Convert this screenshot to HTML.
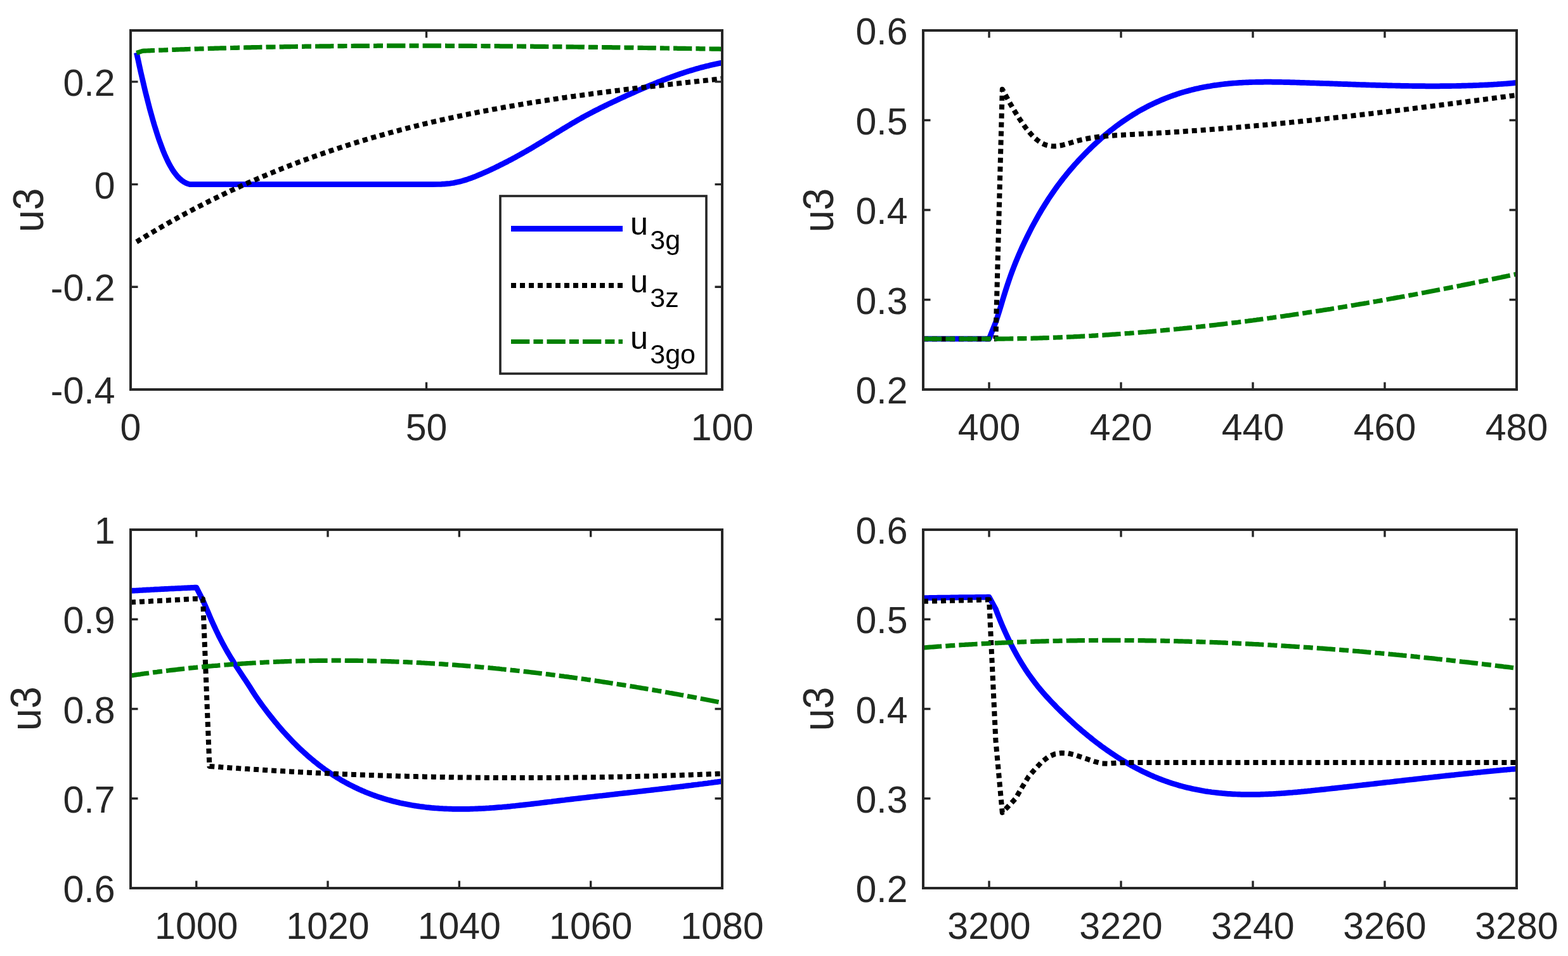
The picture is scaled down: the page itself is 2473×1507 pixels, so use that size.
<!DOCTYPE html>
<html><head><meta charset="utf-8"><title>u3 plots</title>
<style>html,body{margin:0;padding:0;background:#fff;overflow:hidden}svg{display:block}</style>
</head><body>
<svg width="2473" height="1507" viewBox="0 0 2473 1507" font-family="'Liberation Sans', Arial, Helvetica, sans-serif" font-size="59" fill="#262626">
<rect width="2473" height="1507" fill="#fff"/>
<clipPath id="c1"><rect x="206" y="48" width="933" height="566"/></clipPath>
<clipPath id="c2"><rect x="1456" y="48" width="936" height="566"/></clipPath>
<clipPath id="c3"><rect x="206" y="835" width="933" height="565"/></clipPath>
<clipPath id="c4"><rect x="1456" y="835" width="936" height="565"/></clipPath>
<g clip-path="url(#c1)">
<path d="M215.3 83.0L217.7 93.8L220.0 104.5L222.3 114.9L224.7 125.1L227.0 135.1L229.3 144.7L231.7 154.1L234.0 163.3L236.3 172.1L238.7 180.7L241.0 188.9L243.3 196.8L245.7 204.4L248.0 211.7L250.3 218.7L252.7 225.3L255.0 231.6L257.3 237.6L259.6 243.2L262.0 248.5L264.3 253.5L266.6 258.1L269.0 262.4L271.3 266.3L273.6 269.9L276.0 273.2L278.3 276.2L280.6 278.8L283.0 281.2L285.3 283.3L287.6 285.1L290.0 286.7L292.3 288.0L294.6 289.1L297.0 289.9L299.3 290.6L308.6 290.6L318.0 290.6L327.3 290.6L336.6 290.6L345.9 290.6L355.3 290.6L364.6 290.6L373.9 290.6L383.3 290.6L392.6 290.6L401.9 290.6L411.3 290.6L420.6 290.6L429.9 290.6L439.2 290.6L448.6 290.6L457.9 290.6L467.2 290.6L476.6 290.6L485.9 290.6L495.2 290.6L504.6 290.6L513.9 290.6L523.2 290.6L532.5 290.6L541.9 290.6L551.2 290.6L560.5 290.6L569.9 290.6L579.2 290.6L588.5 290.6L597.9 290.6L607.2 290.6L616.5 290.6L625.9 290.6L635.2 290.6L644.5 290.6L653.8 290.6L663.2 290.6L672.5 290.6L681.8 290.6L691.2 290.5L693.5 290.5L695.8 290.4L698.2 290.2L700.5 290.1L702.8 289.9L705.2 289.7L707.5 289.5L709.8 289.2L712.2 288.8L714.5 288.5L716.8 288.1L719.2 287.6L721.5 287.1L723.8 286.6L726.1 286.0L728.5 285.4L730.8 284.7L733.1 284.0L735.5 283.3L737.8 282.5L740.1 281.7L742.5 280.9L744.8 280.0L747.1 279.1L749.5 278.2L751.8 277.3L754.1 276.3L756.5 275.3L758.8 274.4L761.1 273.3L763.5 272.3L765.8 271.3L768.1 270.2L770.5 269.2L772.8 268.1L775.1 267.0L777.5 265.9L779.8 264.8L782.1 263.7L784.5 262.5L786.8 261.4L789.1 260.2L791.5 259.0L793.8 257.9L796.1 256.7L798.5 255.5L800.8 254.3L803.1 253.0L805.5 251.8L807.8 250.6L810.1 249.3L812.5 248.1L814.8 246.8L817.1 245.5L819.4 244.2L821.8 242.9L824.1 241.6L826.4 240.3L828.8 239.0L831.1 237.6L833.4 236.3L835.8 234.9L838.1 233.6L840.4 232.2L842.8 230.8L845.1 229.4L847.4 228.0L849.8 226.6L852.1 225.2L854.4 223.8L856.8 222.4L859.1 220.9L861.4 219.5L863.8 218.1L866.1 216.6L868.4 215.2L870.8 213.8L873.1 212.3L875.4 210.9L877.8 209.5L880.1 208.0L882.4 206.6L884.8 205.2L887.1 203.7L889.4 202.3L891.8 200.9L894.1 199.5L896.4 198.1L898.8 196.7L901.1 195.3L903.4 193.9L905.8 192.6L908.1 191.2L910.4 189.9L912.7 188.5L915.1 187.2L917.4 185.9L919.7 184.6L922.1 183.3L924.4 182.0L926.7 180.8L929.1 179.5L931.4 178.3L933.7 177.1L936.1 175.9L938.4 174.6L940.7 173.5L943.1 172.3L945.4 171.1L947.7 169.9L950.1 168.8L952.4 167.6L954.7 166.5L957.1 165.3L959.4 164.2L961.7 163.1L964.1 162.0L966.4 160.9L968.7 159.8L971.1 158.7L973.4 157.6L975.7 156.5L978.1 155.4L980.4 154.3L982.7 153.3L985.1 152.2L987.4 151.1L989.7 150.1L992.1 149.0L994.4 148.0L996.7 146.9L999.0 145.9L1001.4 144.9L1003.7 143.8L1006.0 142.8L1008.4 141.8L1010.7 140.8L1013.0 139.8L1015.4 138.8L1017.7 137.8L1020.0 136.8L1022.4 135.8L1024.7 134.8L1027.0 133.9L1029.4 132.9L1031.7 132.0L1034.0 131.0L1036.4 130.1L1038.7 129.1L1041.0 128.2L1043.4 127.3L1045.7 126.4L1048.0 125.5L1050.4 124.6L1052.7 123.7L1055.0 122.9L1057.4 122.0L1059.7 121.1L1062.0 120.3L1064.4 119.5L1066.7 118.6L1069.0 117.8L1071.4 117.0L1073.7 116.2L1076.0 115.5L1078.4 114.7L1080.7 113.9L1083.0 113.2L1085.4 112.4L1087.7 111.7L1090.0 111.0L1092.3 110.3L1094.7 109.6L1097.0 108.9L1099.3 108.2L1101.7 107.6L1104.0 106.9L1106.3 106.3L1108.7 105.7L1111.0 105.1L1113.3 104.5L1115.7 103.9L1118.0 103.4L1120.3 102.8L1122.7 102.3L1125.0 101.8L1127.3 101.3L1129.7 100.8L1132.0 100.3L1134.3 99.8L1136.7 99.4L1139.0 99.0" fill="none" stroke="#0000ff" stroke-width="8.7" stroke-linejoin="round"/>
<path d="M215.3 381.3L217.7 379.9L220.0 378.4L222.3 377.0L224.7 375.6L227.0 374.2L229.3 372.7L231.7 371.3L234.0 369.9L236.3 368.5L238.7 367.1L241.0 365.8L243.3 364.4L245.7 363.0L248.0 361.6L250.3 360.3L252.7 358.9L255.0 357.6L257.3 356.2L259.6 354.9L262.0 353.6L264.3 352.2L266.6 350.9L269.0 349.6L271.3 348.3L273.6 347.0L276.0 345.7L278.3 344.4L280.6 343.1L283.0 341.8L285.3 340.6L287.6 339.3L290.0 338.0L292.3 336.8L294.6 335.5L297.0 334.3L299.3 333.0L301.6 331.8L304.0 330.6L306.3 329.3L308.6 328.1L311.0 326.9L313.3 325.7L315.6 324.5L318.0 323.3L320.3 322.1L322.6 320.9L325.0 319.7L327.3 318.6L329.6 317.4L332.0 316.2L334.3 315.1L336.6 313.9L339.0 312.8L341.3 311.6L343.6 310.5L345.9 309.3L348.3 308.2L350.6 307.1L352.9 306.0L355.3 304.9L357.6 303.7L359.9 302.6L362.3 301.5L364.6 300.4L366.9 299.4L369.3 298.3L371.6 297.2L373.9 296.1L376.3 295.1L378.6 294.0L380.9 292.9L383.3 291.9L385.6 290.8L387.9 289.8L390.3 288.7L392.6 287.7L394.9 286.7L397.3 285.7L399.6 284.6L401.9 283.6L404.3 282.6L406.6 281.6L408.9 280.6L411.3 279.6L413.6 278.6L415.9 277.6L418.3 276.7L420.6 275.7L422.9 274.7L425.3 273.7L427.6 272.8L429.9 271.8L432.3 270.9L434.6 269.9L436.9 269.0L439.2 268.0L441.6 267.1L443.9 266.2L446.2 265.2L448.6 264.3L450.9 263.4L453.2 262.5L455.6 261.6L457.9 260.7L460.2 259.8L462.6 258.9L464.9 258.0L467.2 257.1L469.6 256.2L471.9 255.3L474.2 254.5L476.6 253.6L478.9 252.7L481.2 251.9L483.6 251.0L485.9 250.2L488.2 249.3L490.6 248.5L492.9 247.7L495.2 246.8L497.6 246.0L499.9 245.2L502.2 244.3L504.6 243.5L506.9 242.7L509.2 241.9L511.6 241.1L513.9 240.3L516.2 239.5L518.6 238.7L520.9 237.9L523.2 237.1L525.6 236.4L527.9 235.6L530.2 234.8L532.5 234.0L534.9 233.3L537.2 232.5L539.5 231.8L541.9 231.0L544.2 230.3L546.5 229.5L548.9 228.8L551.2 228.0L553.5 227.3L555.9 226.6L558.2 225.8L560.5 225.1L562.9 224.4L565.2 223.7L567.5 223.0L569.9 222.3L572.2 221.6L574.5 220.9L576.9 220.2L579.2 219.5L581.5 218.8L583.9 218.1L586.2 217.4L588.5 216.7L590.9 216.1L593.2 215.4L595.5 214.7L597.9 214.1L600.2 213.4L602.5 212.8L604.9 212.1L607.2 211.4L609.5 210.8L611.9 210.2L614.2 209.5L616.5 208.9L618.9 208.3L621.2 207.6L623.5 207.0L625.9 206.4L628.2 205.8L630.5 205.1L632.8 204.5L635.2 203.9L637.5 203.3L639.8 202.7L642.2 202.1L644.5 201.5L646.8 200.9L649.2 200.3L651.5 199.8L653.8 199.2L656.2 198.6L658.5 198.0L660.8 197.4L663.2 196.9L665.5 196.3L667.8 195.7L670.2 195.2L672.5 194.6L674.8 194.1L677.2 193.5L679.5 193.0L681.8 192.4L684.2 191.9L686.5 191.3L688.8 190.8L691.2 190.3L693.5 189.7L695.8 189.2L698.2 188.7L700.5 188.2L702.8 187.6L705.2 187.1L707.5 186.6L709.8 186.1L712.2 185.6L714.5 185.1L716.8 184.6L719.2 184.1L721.5 183.6L723.8 183.1L726.1 182.6L728.5 182.1L730.8 181.6L733.1 181.1L735.5 180.7L737.8 180.2L740.1 179.7L742.5 179.2L744.8 178.8L747.1 178.3L749.5 177.8L751.8 177.4L754.1 176.9L756.5 176.4L758.8 176.0L761.1 175.5L763.5 175.1L765.8 174.6L768.1 174.2L770.5 173.8L772.8 173.3L775.1 172.9L777.5 172.4L779.8 172.0L782.1 171.6L784.5 171.1L786.8 170.7L789.1 170.3L791.5 169.9L793.8 169.4L796.1 169.0L798.5 168.6L800.8 168.2L803.1 167.8L805.5 167.4L807.8 167.0L810.1 166.6L812.5 166.2L814.8 165.8L817.1 165.4L819.4 165.0L821.8 164.6L824.1 164.2L826.4 163.8L828.8 163.4L831.1 163.0L833.4 162.6L835.8 162.3L838.1 161.9L840.4 161.5L842.8 161.1L845.1 160.8L847.4 160.4L849.8 160.0L852.1 159.7L854.4 159.3L856.8 158.9L859.1 158.6L861.4 158.2L863.8 157.8L866.1 157.5L868.4 157.1L870.8 156.8L873.1 156.4L875.4 156.1L877.8 155.7L880.1 155.4L882.4 155.0L884.8 154.7L887.1 154.3L889.4 154.0L891.8 153.7L894.1 153.3L896.4 153.0L898.8 152.7L901.1 152.3L903.4 152.0L905.8 151.7L908.1 151.3L910.4 151.0L912.7 150.7L915.1 150.4L917.4 150.1L919.7 149.7L922.1 149.4L924.4 149.1L926.7 148.8L929.1 148.5L931.4 148.2L933.7 147.8L936.1 147.5L938.4 147.2L940.7 146.9L943.1 146.6L945.4 146.3L947.7 146.0L950.1 145.7L952.4 145.4L954.7 145.1L957.1 144.8L959.4 144.5L961.7 144.2L964.1 143.9L966.4 143.6L968.7 143.3L971.1 143.0L973.4 142.7L975.7 142.5L978.1 142.2L980.4 141.9L982.7 141.6L985.1 141.3L987.4 141.0L989.7 140.7L992.1 140.5L994.4 140.2L996.7 139.9L999.0 139.6L1001.4 139.3L1003.7 139.1L1006.0 138.8L1008.4 138.5L1010.7 138.2L1013.0 138.0L1015.4 137.7L1017.7 137.4L1020.0 137.1L1022.4 136.9L1024.7 136.6L1027.0 136.3L1029.4 136.1L1031.7 135.8L1034.0 135.5L1036.4 135.3L1038.7 135.0L1041.0 134.7L1043.4 134.5L1045.7 134.2L1048.0 133.9L1050.4 133.7L1052.7 133.4L1055.0 133.1L1057.4 132.9L1059.7 132.6L1062.0 132.4L1064.4 132.1L1066.7 131.8L1069.0 131.6L1071.4 131.3L1073.7 131.1L1076.0 130.8L1078.4 130.6L1080.7 130.3L1083.0 130.0L1085.4 129.8L1087.7 129.5L1090.0 129.3L1092.3 129.0L1094.7 128.8L1097.0 128.5L1099.3 128.3L1101.7 128.0L1104.0 127.7L1106.3 127.5L1108.7 127.2L1111.0 127.0L1113.3 126.7L1115.7 126.5L1118.0 126.2L1120.3 126.0L1122.7 125.7L1125.0 125.5L1127.3 125.2L1129.7 125.0L1132.0 124.7L1134.3 124.5L1136.7 124.2L1139.0 124.0" fill="none" stroke="#000" stroke-width="8" stroke-dasharray="8 6" stroke-linejoin="round"/>
<path d="M215.3 83.5L224.7 80.3L227.0 80.2L229.3 80.1L231.7 80.0L234.0 79.9L236.3 79.8L238.7 79.7L241.0 79.6L243.3 79.5L245.7 79.4L248.0 79.3L250.3 79.2L252.7 79.2L255.0 79.1L257.3 79.0L259.6 78.9L262.0 78.8L264.3 78.7L266.6 78.6L269.0 78.5L271.3 78.4L273.6 78.4L276.0 78.3L278.3 78.2L280.6 78.1L283.0 78.0L285.3 77.9L287.6 77.8L290.0 77.8L292.3 77.7L294.6 77.6L297.0 77.5L299.3 77.4L301.6 77.4L304.0 77.3L306.3 77.2L308.6 77.1L311.0 77.1L313.3 77.0L315.6 76.9L318.0 76.8L320.3 76.8L322.6 76.7L325.0 76.6L327.3 76.6L329.6 76.5L332.0 76.4L334.3 76.3L336.6 76.3L339.0 76.2L341.3 76.1L343.6 76.1L345.9 76.0L348.3 75.9L350.6 75.9L352.9 75.8L355.3 75.8L357.6 75.7L359.9 75.6L362.3 75.6L364.6 75.5L366.9 75.5L369.3 75.4L371.6 75.3L373.9 75.3L376.3 75.2L378.6 75.2L380.9 75.1L383.3 75.0L385.6 75.0L387.9 74.9L390.3 74.9L392.6 74.8L394.9 74.8L397.3 74.7L399.6 74.7L401.9 74.6L404.3 74.6L406.6 74.5L408.9 74.5L411.3 74.4L413.6 74.4L415.9 74.3L418.3 74.3L420.6 74.2L422.9 74.2L425.3 74.1L427.6 74.1L429.9 74.1L432.3 74.0L434.6 74.0L436.9 73.9L439.2 73.9L441.6 73.8L443.9 73.8L446.2 73.8L448.6 73.7L450.9 73.7L453.2 73.6L455.6 73.6L457.9 73.6L460.2 73.5L462.6 73.5L464.9 73.5L467.2 73.4L469.6 73.4L471.9 73.4L474.2 73.3L476.6 73.3L478.9 73.3L481.2 73.2L483.6 73.2L485.9 73.2L488.2 73.1L490.6 73.1L492.9 73.1L495.2 73.0L497.6 73.0L499.9 73.0L502.2 73.0L504.6 72.9L506.9 72.9L509.2 72.9L511.6 72.9L513.9 72.8L516.2 72.8L518.6 72.8L520.9 72.8L523.2 72.7L525.6 72.7L527.9 72.7L530.2 72.7L532.5 72.6L534.9 72.6L537.2 72.6L539.5 72.6L541.9 72.6L544.2 72.5L546.5 72.5L548.9 72.5L551.2 72.5L553.5 72.5L555.9 72.5L558.2 72.4L560.5 72.4L562.9 72.4L565.2 72.4L567.5 72.4L569.9 72.4L572.2 72.4L574.5 72.3L576.9 72.3L579.2 72.3L581.5 72.3L583.9 72.3L586.2 72.3L588.5 72.3L590.9 72.3L593.2 72.3L595.5 72.2L597.9 72.2L600.2 72.2L602.5 72.2L604.9 72.2L607.2 72.2L609.5 72.2L611.9 72.2L614.2 72.2L616.5 72.2L618.9 72.2L621.2 72.2L623.5 72.2L625.9 72.2L628.2 72.2L630.5 72.2L632.8 72.2L635.2 72.2L637.5 72.1L639.8 72.1L642.2 72.1L644.5 72.1L646.8 72.1L649.2 72.1L651.5 72.1L653.8 72.1L656.2 72.1L658.5 72.1L660.8 72.1L663.2 72.2L665.5 72.2L667.8 72.2L670.2 72.2L672.5 72.2L674.8 72.2L677.2 72.2L679.5 72.2L681.8 72.2L684.2 72.2L686.5 72.2L688.8 72.2L691.2 72.2L693.5 72.2L695.8 72.2L698.2 72.2L700.5 72.2L702.8 72.2L705.2 72.3L707.5 72.3L709.8 72.3L712.2 72.3L714.5 72.3L716.8 72.3L719.2 72.3L721.5 72.3L723.8 72.3L726.1 72.3L728.5 72.4L730.8 72.4L733.1 72.4L735.5 72.4L737.8 72.4L740.1 72.4L742.5 72.4L744.8 72.4L747.1 72.5L749.5 72.5L751.8 72.5L754.1 72.5L756.5 72.5L758.8 72.5L761.1 72.5L763.5 72.6L765.8 72.6L768.1 72.6L770.5 72.6L772.8 72.6L775.1 72.6L777.5 72.7L779.8 72.7L782.1 72.7L784.5 72.7L786.8 72.7L789.1 72.8L791.5 72.8L793.8 72.8L796.1 72.8L798.5 72.8L800.8 72.9L803.1 72.9L805.5 72.9L807.8 72.9L810.1 72.9L812.5 73.0L814.8 73.0L817.1 73.0L819.4 73.0L821.8 73.0L824.1 73.1L826.4 73.1L828.8 73.1L831.1 73.1L833.4 73.2L835.8 73.2L838.1 73.2L840.4 73.2L842.8 73.3L845.1 73.3L847.4 73.3L849.8 73.3L852.1 73.3L854.4 73.4L856.8 73.4L859.1 73.4L861.4 73.5L863.8 73.5L866.1 73.5L868.4 73.5L870.8 73.6L873.1 73.6L875.4 73.6L877.8 73.6L880.1 73.7L882.4 73.7L884.8 73.7L887.1 73.7L889.4 73.8L891.8 73.8L894.1 73.8L896.4 73.9L898.8 73.9L901.1 73.9L903.4 73.9L905.8 74.0L908.1 74.0L910.4 74.0L912.7 74.1L915.1 74.1L917.4 74.1L919.7 74.1L922.1 74.2L924.4 74.2L926.7 74.2L929.1 74.3L931.4 74.3L933.7 74.3L936.1 74.4L938.4 74.4L940.7 74.4L943.1 74.5L945.4 74.5L947.7 74.5L950.1 74.5L952.4 74.6L954.7 74.6L957.1 74.6L959.4 74.7L961.7 74.7L964.1 74.7L966.4 74.8L968.7 74.8L971.1 74.8L973.4 74.9L975.7 74.9L978.1 74.9L980.4 75.0L982.7 75.0L985.1 75.0L987.4 75.1L989.7 75.1L992.1 75.1L994.4 75.2L996.7 75.2L999.0 75.2L1001.4 75.3L1003.7 75.3L1006.0 75.3L1008.4 75.4L1010.7 75.4L1013.0 75.4L1015.4 75.5L1017.7 75.5L1020.0 75.5L1022.4 75.6L1024.7 75.6L1027.0 75.6L1029.4 75.7L1031.7 75.7L1034.0 75.7L1036.4 75.8L1038.7 75.8L1041.0 75.8L1043.4 75.9L1045.7 75.9L1048.0 76.0L1050.4 76.0L1052.7 76.0L1055.0 76.1L1057.4 76.1L1059.7 76.1L1062.0 76.2L1064.4 76.2L1066.7 76.2L1069.0 76.3L1071.4 76.3L1073.7 76.3L1076.0 76.4L1078.4 76.4L1080.7 76.4L1083.0 76.5L1085.4 76.5L1087.7 76.5L1090.0 76.6L1092.3 76.6L1094.7 76.6L1097.0 76.7L1099.3 76.7L1101.7 76.7L1104.0 76.8L1106.3 76.8L1108.7 76.9L1111.0 76.9L1113.3 76.9L1115.7 77.0L1118.0 77.0L1120.3 77.0L1122.7 77.1L1125.0 77.1L1127.3 77.1L1129.7 77.2L1132.0 77.2L1134.3 77.2L1136.7 77.3L1139.0 77.3" fill="none" stroke="#008000" stroke-width="7.2" stroke-dasharray="29.3 6.1 15 6.1" stroke-linejoin="round"/>
</g>
<g clip-path="url(#c2)">
<path d="M1456.0 534.2L1466.4 534.2L1476.8 534.2L1487.2 534.2L1497.6 534.2L1508.0 534.2L1518.4 534.2L1528.8 534.2L1539.2 534.2L1549.6 534.2L1560.0 534.2L1570.4 508.0L1573.0 500.2L1575.6 491.9L1578.2 483.4L1580.8 474.8L1583.4 466.3L1586.0 457.9L1588.6 449.9L1591.2 442.2L1593.8 434.7L1596.4 427.6L1599.0 420.8L1601.6 414.2L1604.2 407.8L1606.8 401.6L1609.4 395.7L1612.0 389.9L1614.6 384.3L1617.2 378.8L1619.8 373.5L1622.4 368.3L1625.0 363.1L1627.6 358.1L1630.2 353.3L1632.8 348.5L1635.4 343.8L1638.0 339.2L1640.6 334.7L1643.2 330.3L1645.8 326.1L1648.4 321.9L1651.0 317.8L1653.6 313.7L1656.2 309.8L1658.8 306.0L1661.4 302.2L1664.0 298.5L1666.6 294.9L1669.2 291.3L1671.8 287.9L1674.4 284.5L1677.0 281.1L1679.6 277.9L1682.2 274.6L1684.8 271.5L1687.4 268.4L1690.0 265.4L1692.6 262.4L1695.2 259.4L1697.8 256.6L1700.4 253.7L1703.0 250.9L1705.6 248.1L1708.2 245.4L1710.8 242.7L1713.4 240.1L1716.0 237.5L1718.6 235.0L1721.2 232.4L1723.8 229.9L1726.4 227.5L1729.0 225.1L1731.6 222.7L1734.2 220.4L1736.8 218.1L1739.4 215.9L1742.0 213.6L1744.6 211.5L1747.2 209.3L1749.8 207.2L1752.4 205.1L1755.0 203.1L1757.6 201.1L1760.2 199.1L1762.8 197.2L1765.4 195.3L1768.0 193.4L1770.6 191.6L1773.2 189.8L1775.8 188.1L1778.4 186.3L1781.0 184.6L1783.6 183.0L1786.2 181.3L1788.8 179.7L1791.4 178.2L1794.0 176.6L1796.6 175.1L1799.2 173.6L1801.8 172.2L1804.4 170.8L1807.0 169.4L1809.6 168.0L1812.2 166.7L1814.8 165.4L1817.4 164.2L1820.0 162.9L1822.6 161.7L1825.2 160.5L1827.8 159.4L1830.4 158.2L1833.0 157.1L1835.6 156.1L1838.2 155.0L1840.8 154.0L1843.4 153.0L1846.0 152.0L1848.6 151.1L1851.2 150.2L1853.8 149.3L1856.4 148.4L1859.0 147.5L1861.6 146.7L1864.2 145.9L1866.8 145.1L1869.4 144.4L1872.0 143.7L1874.6 143.0L1877.2 142.3L1879.8 141.6L1882.4 141.0L1885.0 140.3L1887.6 139.7L1890.2 139.2L1892.8 138.6L1895.4 138.1L1898.0 137.5L1900.6 137.0L1903.2 136.6L1905.8 136.1L1908.4 135.7L1911.0 135.2L1913.6 134.8L1916.2 134.4L1918.8 134.1L1921.4 133.7L1924.0 133.4L1926.6 133.0L1929.2 132.7L1931.8 132.4L1934.4 132.2L1937.0 131.9L1939.6 131.6L1942.2 131.4L1944.8 131.2L1947.4 131.0L1950.0 130.8L1952.6 130.6L1955.2 130.4L1957.8 130.3L1960.4 130.1L1963.0 130.0L1965.6 129.9L1968.2 129.8L1970.8 129.7L1973.4 129.6L1976.0 129.5L1978.6 129.5L1981.2 129.4L1983.8 129.3L1986.4 129.3L1989.0 129.3L1991.6 129.3L1994.2 129.2L1996.8 129.2L1999.4 129.2L2002.0 129.2L2004.6 129.2L2007.2 129.3L2009.8 129.3L2012.4 129.3L2015.0 129.4L2017.6 129.4L2020.2 129.4L2022.8 129.5L2025.4 129.6L2028.0 129.6L2030.6 129.7L2033.2 129.7L2035.8 129.8L2038.4 129.9L2041.0 129.9L2043.6 130.0L2046.2 130.1L2048.8 130.2L2051.4 130.3L2054.0 130.3L2056.6 130.4L2059.2 130.5L2061.8 130.6L2064.4 130.7L2067.0 130.8L2069.6 130.8L2072.2 130.9L2074.8 131.0L2077.4 131.1L2080.0 131.2L2082.6 131.3L2085.2 131.4L2087.8 131.5L2090.4 131.5L2093.0 131.6L2095.6 131.7L2098.2 131.8L2100.8 131.9L2103.4 132.0L2106.0 132.1L2108.6 132.2L2111.2 132.3L2113.8 132.4L2116.4 132.5L2119.0 132.6L2121.6 132.7L2124.2 132.7L2126.8 132.8L2129.4 132.9L2132.0 133.0L2134.6 133.1L2137.2 133.2L2139.8 133.3L2142.4 133.4L2145.0 133.5L2147.6 133.6L2150.2 133.6L2152.8 133.7L2155.4 133.8L2158.0 133.9L2160.6 134.0L2163.2 134.1L2165.8 134.1L2168.4 134.2L2171.0 134.3L2173.6 134.4L2176.2 134.4L2178.8 134.5L2181.4 134.6L2184.0 134.7L2186.6 134.7L2189.2 134.8L2191.8 134.9L2194.4 134.9L2197.0 135.0L2199.6 135.0L2202.2 135.1L2204.8 135.2L2207.4 135.2L2210.0 135.3L2212.6 135.3L2215.2 135.4L2217.8 135.4L2220.4 135.4L2223.0 135.5L2225.6 135.5L2228.2 135.6L2230.8 135.6L2233.4 135.6L2236.0 135.7L2238.6 135.7L2241.2 135.7L2243.8 135.7L2246.4 135.7L2249.0 135.8L2251.6 135.8L2254.2 135.8L2256.8 135.8L2259.4 135.8L2262.0 135.8L2264.6 135.8L2267.2 135.8L2269.8 135.8L2272.4 135.7L2275.0 135.7L2277.6 135.7L2280.2 135.7L2282.8 135.7L2285.4 135.6L2288.0 135.6L2290.6 135.5L2293.2 135.5L2295.8 135.5L2298.4 135.4L2301.0 135.4L2303.6 135.3L2306.2 135.2L2308.8 135.2L2311.4 135.1L2314.0 135.0L2316.6 134.9L2319.2 134.8L2321.8 134.8L2324.4 134.7L2327.0 134.6L2329.6 134.5L2332.2 134.4L2334.8 134.2L2337.4 134.1L2340.0 134.0L2342.6 133.9L2345.2 133.8L2347.8 133.6L2350.4 133.5L2353.0 133.3L2355.6 133.2L2358.2 133.0L2360.8 132.9L2363.4 132.7L2366.0 132.5L2368.6 132.3L2371.2 132.2L2373.8 132.0L2376.4 131.8L2379.0 131.6L2381.6 131.4L2384.2 131.2L2386.8 130.9L2389.4 130.7L2392.0 130.5" fill="none" stroke="#0000ff" stroke-width="8.7" stroke-linejoin="round"/>
<path d="M1456.0 534.2L1466.4 534.2L1476.8 534.2L1487.2 534.2L1497.6 534.2L1508.0 534.2L1518.4 534.2L1528.8 534.2L1539.2 534.2L1549.6 534.2L1560.0 534.2L1570.4 534.2L1580.8 140.7L1591.2 159.6L1593.8 164.2L1596.4 168.7L1599.0 173.1L1601.6 177.4L1604.2 181.6L1606.8 185.6L1609.4 189.6L1612.0 193.4L1614.6 197.1L1617.2 200.7L1619.8 204.0L1622.4 207.2L1625.0 210.3L1627.6 213.1L1630.2 215.8L1632.8 218.2L1635.4 220.4L1638.0 222.4L1640.6 224.2L1643.2 225.7L1645.8 227.0L1648.4 228.1L1651.0 228.9L1653.6 229.6L1656.2 230.0L1658.8 230.3L1661.4 230.4L1664.0 230.4L1666.6 230.2L1669.2 229.9L1671.8 229.5L1674.4 229.0L1677.0 228.4L1679.6 227.7L1682.2 227.0L1684.8 226.3L1687.4 225.5L1690.0 224.7L1692.6 223.9L1695.2 223.1L1697.8 222.4L1700.4 221.7L1703.0 221.0L1705.6 220.4L1708.2 219.8L1710.8 219.2L1713.4 218.7L1716.0 218.2L1718.6 217.7L1721.2 217.3L1723.8 216.9L1726.4 216.5L1729.0 216.1L1731.6 215.8L1734.2 215.5L1736.8 215.2L1739.4 215.0L1742.0 214.7L1744.6 214.5L1747.2 214.3L1749.8 214.1L1752.4 213.9L1755.0 213.7L1757.6 213.5L1760.2 213.3L1762.8 213.2L1765.4 213.0L1768.0 212.9L1770.6 212.7L1773.2 212.6L1775.8 212.4L1778.4 212.3L1781.0 212.2L1783.6 212.0L1786.2 211.9L1788.8 211.7L1791.4 211.6L1794.0 211.5L1796.6 211.3L1799.2 211.2L1801.8 211.1L1804.4 210.9L1807.0 210.8L1809.6 210.6L1812.2 210.5L1814.8 210.4L1817.4 210.2L1820.0 210.1L1822.6 209.9L1825.2 209.8L1827.8 209.6L1830.4 209.5L1833.0 209.3L1835.6 209.2L1838.2 209.0L1840.8 208.9L1843.4 208.7L1846.0 208.5L1848.6 208.4L1851.2 208.2L1853.8 208.0L1856.4 207.9L1859.0 207.7L1861.6 207.5L1864.2 207.4L1866.8 207.2L1869.4 207.0L1872.0 206.8L1874.6 206.7L1877.2 206.5L1879.8 206.3L1882.4 206.1L1885.0 205.9L1887.6 205.8L1890.2 205.6L1892.8 205.4L1895.4 205.2L1898.0 205.0L1900.6 204.8L1903.2 204.6L1905.8 204.4L1908.4 204.2L1911.0 204.0L1913.6 203.8L1916.2 203.6L1918.8 203.4L1921.4 203.2L1924.0 203.0L1926.6 202.8L1929.2 202.6L1931.8 202.4L1934.4 202.2L1937.0 202.0L1939.6 201.7L1942.2 201.5L1944.8 201.3L1947.4 201.1L1950.0 200.9L1952.6 200.6L1955.2 200.4L1957.8 200.2L1960.4 200.0L1963.0 199.8L1965.6 199.5L1968.2 199.3L1970.8 199.1L1973.4 198.8L1976.0 198.6L1978.6 198.4L1981.2 198.1L1983.8 197.9L1986.4 197.7L1989.0 197.4L1991.6 197.2L1994.2 196.9L1996.8 196.7L1999.4 196.4L2002.0 196.2L2004.6 196.0L2007.2 195.7L2009.8 195.5L2012.4 195.2L2015.0 195.0L2017.6 194.7L2020.2 194.5L2022.8 194.2L2025.4 193.9L2028.0 193.7L2030.6 193.4L2033.2 193.2L2035.8 192.9L2038.4 192.6L2041.0 192.4L2043.6 192.1L2046.2 191.9L2048.8 191.6L2051.4 191.3L2054.0 191.1L2056.6 190.8L2059.2 190.5L2061.8 190.2L2064.4 190.0L2067.0 189.7L2069.6 189.4L2072.2 189.2L2074.8 188.9L2077.4 188.6L2080.0 188.3L2082.6 188.0L2085.2 187.8L2087.8 187.5L2090.4 187.2L2093.0 186.9L2095.6 186.6L2098.2 186.4L2100.8 186.1L2103.4 185.8L2106.0 185.5L2108.6 185.2L2111.2 184.9L2113.8 184.6L2116.4 184.3L2119.0 184.0L2121.6 183.7L2124.2 183.5L2126.8 183.2L2129.4 182.9L2132.0 182.6L2134.6 182.3L2137.2 182.0L2139.8 181.7L2142.4 181.4L2145.0 181.1L2147.6 180.8L2150.2 180.5L2152.8 180.2L2155.4 179.9L2158.0 179.6L2160.6 179.3L2163.2 179.0L2165.8 178.6L2168.4 178.3L2171.0 178.0L2173.6 177.7L2176.2 177.4L2178.8 177.1L2181.4 176.8L2184.0 176.5L2186.6 176.2L2189.2 175.9L2191.8 175.5L2194.4 175.2L2197.0 174.9L2199.6 174.6L2202.2 174.3L2204.8 174.0L2207.4 173.6L2210.0 173.3L2212.6 173.0L2215.2 172.7L2217.8 172.4L2220.4 172.1L2223.0 171.7L2225.6 171.4L2228.2 171.1L2230.8 170.8L2233.4 170.4L2236.0 170.1L2238.6 169.8L2241.2 169.5L2243.8 169.1L2246.4 168.8L2249.0 168.5L2251.6 168.2L2254.2 167.8L2256.8 167.5L2259.4 167.2L2262.0 166.8L2264.6 166.5L2267.2 166.2L2269.8 165.9L2272.4 165.5L2275.0 165.2L2277.6 164.9L2280.2 164.5L2282.8 164.2L2285.4 163.9L2288.0 163.5L2290.6 163.2L2293.2 162.9L2295.8 162.5L2298.4 162.2L2301.0 161.9L2303.6 161.5L2306.2 161.2L2308.8 160.9L2311.4 160.5L2314.0 160.2L2316.6 159.8L2319.2 159.5L2321.8 159.2L2324.4 158.8L2327.0 158.5L2329.6 158.2L2332.2 157.8L2334.8 157.5L2337.4 157.1L2340.0 156.8L2342.6 156.5L2345.2 156.1L2347.8 155.8L2350.4 155.4L2353.0 155.1L2355.6 154.7L2358.2 154.4L2360.8 154.1L2363.4 153.7L2366.0 153.4L2368.6 153.0L2371.2 152.7L2373.8 152.4L2376.4 152.0L2379.0 151.7L2381.6 151.3L2384.2 151.0L2386.8 150.6L2389.4 150.3L2392.0 150.0" fill="none" stroke="#000" stroke-width="8" stroke-dasharray="8 6" stroke-linejoin="round"/>
<path d="M1456.0 534.2L1466.4 534.2L1476.8 534.2L1487.2 534.2L1497.6 534.2L1508.0 534.2L1518.4 534.2L1528.8 534.2L1539.2 534.2L1549.6 534.2L1560.0 534.2L1562.6 534.2L1565.2 534.2L1567.8 534.2L1570.4 534.2L1573.0 534.1L1575.6 534.1L1578.2 534.1L1580.8 534.1L1583.4 534.1L1586.0 534.0L1588.6 534.0L1591.2 534.0L1593.8 533.9L1596.4 533.9L1599.0 533.9L1601.6 533.8L1604.2 533.8L1606.8 533.7L1609.4 533.7L1612.0 533.6L1614.6 533.6L1617.2 533.5L1619.8 533.5L1622.4 533.4L1625.0 533.3L1627.6 533.3L1630.2 533.2L1632.8 533.1L1635.4 533.1L1638.0 533.0L1640.6 532.9L1643.2 532.8L1645.8 532.7L1648.4 532.7L1651.0 532.6L1653.6 532.5L1656.2 532.4L1658.8 532.3L1661.4 532.2L1664.0 532.1L1666.6 532.0L1669.2 531.9L1671.8 531.8L1674.4 531.7L1677.0 531.6L1679.6 531.5L1682.2 531.3L1684.8 531.2L1687.4 531.1L1690.0 531.0L1692.6 530.9L1695.2 530.7L1697.8 530.6L1700.4 530.5L1703.0 530.3L1705.6 530.2L1708.2 530.1L1710.8 529.9L1713.4 529.8L1716.0 529.7L1718.6 529.5L1721.2 529.4L1723.8 529.2L1726.4 529.1L1729.0 528.9L1731.6 528.7L1734.2 528.6L1736.8 528.4L1739.4 528.3L1742.0 528.1L1744.6 527.9L1747.2 527.8L1749.8 527.6L1752.4 527.4L1755.0 527.2L1757.6 527.1L1760.2 526.9L1762.8 526.7L1765.4 526.5L1768.0 526.3L1770.6 526.1L1773.2 525.9L1775.8 525.7L1778.4 525.5L1781.0 525.4L1783.6 525.2L1786.2 525.0L1788.8 524.7L1791.4 524.5L1794.0 524.3L1796.6 524.1L1799.2 523.9L1801.8 523.7L1804.4 523.5L1807.0 523.3L1809.6 523.0L1812.2 522.8L1814.8 522.6L1817.4 522.4L1820.0 522.1L1822.6 521.9L1825.2 521.7L1827.8 521.4L1830.4 521.2L1833.0 521.0L1835.6 520.7L1838.2 520.5L1840.8 520.2L1843.4 520.0L1846.0 519.8L1848.6 519.5L1851.2 519.2L1853.8 519.0L1856.4 518.7L1859.0 518.5L1861.6 518.2L1864.2 518.0L1866.8 517.7L1869.4 517.4L1872.0 517.2L1874.6 516.9L1877.2 516.6L1879.8 516.4L1882.4 516.1L1885.0 515.8L1887.6 515.5L1890.2 515.2L1892.8 515.0L1895.4 514.7L1898.0 514.4L1900.6 514.1L1903.2 513.8L1905.8 513.5L1908.4 513.2L1911.0 512.9L1913.6 512.6L1916.2 512.3L1918.8 512.0L1921.4 511.7L1924.0 511.4L1926.6 511.1L1929.2 510.8L1931.8 510.5L1934.4 510.2L1937.0 509.9L1939.6 509.6L1942.2 509.2L1944.8 508.9L1947.4 508.6L1950.0 508.3L1952.6 508.0L1955.2 507.6L1957.8 507.3L1960.4 507.0L1963.0 506.6L1965.6 506.3L1968.2 506.0L1970.8 505.6L1973.4 505.3L1976.0 505.0L1978.6 504.6L1981.2 504.3L1983.8 503.9L1986.4 503.6L1989.0 503.2L1991.6 502.9L1994.2 502.5L1996.8 502.2L1999.4 501.8L2002.0 501.5L2004.6 501.1L2007.2 500.8L2009.8 500.4L2012.4 500.0L2015.0 499.7L2017.6 499.3L2020.2 498.9L2022.8 498.6L2025.4 498.2L2028.0 497.8L2030.6 497.4L2033.2 497.1L2035.8 496.7L2038.4 496.3L2041.0 495.9L2043.6 495.5L2046.2 495.2L2048.8 494.8L2051.4 494.4L2054.0 494.0L2056.6 493.6L2059.2 493.2L2061.8 492.8L2064.4 492.4L2067.0 492.0L2069.6 491.6L2072.2 491.2L2074.8 490.8L2077.4 490.4L2080.0 490.0L2082.6 489.6L2085.2 489.2L2087.8 488.8L2090.4 488.4L2093.0 488.0L2095.6 487.6L2098.2 487.2L2100.8 486.7L2103.4 486.3L2106.0 485.9L2108.6 485.5L2111.2 485.1L2113.8 484.6L2116.4 484.2L2119.0 483.8L2121.6 483.4L2124.2 482.9L2126.8 482.5L2129.4 482.1L2132.0 481.6L2134.6 481.2L2137.2 480.8L2139.8 480.3L2142.4 479.9L2145.0 479.4L2147.6 479.0L2150.2 478.6L2152.8 478.1L2155.4 477.7L2158.0 477.2L2160.6 476.8L2163.2 476.3L2165.8 475.9L2168.4 475.4L2171.0 475.0L2173.6 474.5L2176.2 474.1L2178.8 473.6L2181.4 473.1L2184.0 472.7L2186.6 472.2L2189.2 471.8L2191.8 471.3L2194.4 470.8L2197.0 470.4L2199.6 469.9L2202.2 469.4L2204.8 468.9L2207.4 468.5L2210.0 468.0L2212.6 467.5L2215.2 467.1L2217.8 466.6L2220.4 466.1L2223.0 465.6L2225.6 465.1L2228.2 464.7L2230.8 464.2L2233.4 463.7L2236.0 463.2L2238.6 462.7L2241.2 462.2L2243.8 461.7L2246.4 461.2L2249.0 460.8L2251.6 460.3L2254.2 459.8L2256.8 459.3L2259.4 458.8L2262.0 458.3L2264.6 457.8L2267.2 457.3L2269.8 456.8L2272.4 456.3L2275.0 455.8L2277.6 455.3L2280.2 454.8L2282.8 454.3L2285.4 453.8L2288.0 453.2L2290.6 452.7L2293.2 452.2L2295.8 451.7L2298.4 451.2L2301.0 450.7L2303.6 450.2L2306.2 449.6L2308.8 449.1L2311.4 448.6L2314.0 448.1L2316.6 447.6L2319.2 447.1L2321.8 446.5L2324.4 446.0L2327.0 445.5L2329.6 445.0L2332.2 444.4L2334.8 443.9L2337.4 443.4L2340.0 442.8L2342.6 442.3L2345.2 441.8L2347.8 441.2L2350.4 440.7L2353.0 440.2L2355.6 439.6L2358.2 439.1L2360.8 438.6L2363.4 438.0L2366.0 437.5L2368.6 436.9L2371.2 436.4L2373.8 435.9L2376.4 435.3L2379.0 434.8L2381.6 434.2L2384.2 433.7L2386.8 433.1L2389.4 432.6L2392.0 432.0" fill="none" stroke="#008000" stroke-width="7.2" stroke-dasharray="29.3 6.1 15 6.1" stroke-linejoin="round"/>
</g>
<g clip-path="url(#c3)">
<path d="M206.0 931.4L208.6 931.2L211.2 931.1L213.8 931.0L216.4 930.8L219.0 930.7L221.6 930.5L224.1 930.4L226.7 930.2L229.3 930.1L231.9 929.9L234.5 929.8L237.1 929.7L239.7 929.5L242.3 929.4L244.9 929.2L247.5 929.1L250.1 929.0L252.7 928.8L255.2 928.7L257.8 928.6L260.4 928.4L263.0 928.3L265.6 928.2L268.2 928.0L270.8 927.9L273.4 927.8L276.0 927.7L278.6 927.5L281.2 927.4L283.8 927.3L286.3 927.2L288.9 927.0L291.5 926.9L294.1 926.8L296.7 926.7L299.3 926.6L301.9 926.4L304.5 926.3L307.1 926.2L309.7 926.1L320.0 946.3L322.6 952.2L325.2 958.2L327.8 964.3L330.4 970.4L333.0 976.4L335.6 982.2L338.2 987.9L340.8 993.5L343.4 998.8L345.9 1004.1L348.5 1009.1L351.1 1014.0L353.7 1018.8L356.3 1023.5L358.9 1028.0L361.5 1032.4L364.1 1036.7L366.7 1040.9L369.3 1045.0L371.9 1049.1L374.5 1053.1L377.0 1057.0L379.6 1060.9L382.2 1064.8L384.8 1068.8L387.4 1072.7L390.0 1076.7L392.6 1080.7L395.2 1084.7L397.8 1088.8L400.4 1092.9L403.0 1096.8L405.6 1100.6L408.1 1104.3L410.7 1107.9L413.3 1111.5L415.9 1115.0L418.5 1118.4L421.1 1121.9L423.7 1125.2L426.3 1128.5L428.9 1131.8L431.5 1135.0L434.1 1138.2L436.7 1141.3L439.2 1144.4L441.8 1147.4L444.4 1150.4L447.0 1153.3L449.6 1156.2L452.2 1159.0L454.8 1161.8L457.4 1164.5L460.0 1167.2L462.6 1169.9L465.2 1172.5L467.8 1175.1L470.3 1177.6L472.9 1180.1L475.5 1182.5L478.1 1184.9L480.7 1187.3L483.3 1189.6L485.9 1191.9L488.5 1194.1L491.1 1196.3L493.7 1198.5L496.3 1200.6L498.9 1202.6L501.4 1204.7L504.0 1206.7L506.6 1208.6L509.2 1210.6L511.8 1212.5L514.4 1214.3L517.0 1216.1L519.6 1217.9L522.2 1219.6L524.8 1221.3L527.4 1223.0L530.0 1224.6L532.5 1226.3L535.1 1227.8L537.7 1229.4L540.3 1230.9L542.9 1232.3L545.5 1233.8L548.1 1235.2L550.7 1236.6L553.3 1237.9L555.9 1239.2L558.5 1240.5L561.1 1241.7L563.7 1243.0L566.2 1244.2L568.8 1245.3L571.4 1246.5L574.0 1247.6L576.6 1248.7L579.2 1249.7L581.8 1250.7L584.4 1251.7L587.0 1252.7L589.6 1253.7L592.2 1254.6L594.8 1255.5L597.3 1256.4L599.9 1257.2L602.5 1258.0L605.1 1258.8L607.7 1259.6L610.3 1260.4L612.9 1261.1L615.5 1261.8L618.1 1262.5L620.7 1263.2L623.3 1263.8L625.9 1264.5L628.4 1265.1L631.0 1265.7L633.6 1266.2L636.2 1266.8L638.8 1267.3L641.4 1267.8L644.0 1268.3L646.6 1268.8L649.2 1269.3L651.8 1269.7L654.4 1270.1L657.0 1270.5L659.5 1270.9L662.1 1271.3L664.7 1271.6L667.3 1271.9L669.9 1272.3L672.5 1272.6L675.1 1272.8L677.7 1273.1L680.3 1273.4L682.9 1273.6L685.5 1273.8L688.1 1274.0L690.6 1274.2L693.2 1274.4L695.8 1274.5L698.4 1274.7L701.0 1274.8L703.6 1274.9L706.2 1275.0L708.8 1275.1L711.4 1275.2L714.0 1275.3L716.6 1275.3L719.2 1275.4L721.7 1275.4L724.3 1275.4L726.9 1275.4L729.5 1275.4L732.1 1275.4L734.7 1275.4L737.3 1275.3L739.9 1275.3L742.5 1275.2L745.1 1275.1L747.7 1275.0L750.2 1274.9L752.8 1274.8L755.4 1274.7L758.0 1274.6L760.6 1274.5L763.2 1274.3L765.8 1274.2L768.4 1274.0L771.0 1273.9L773.6 1273.7L776.2 1273.5L778.8 1273.3L781.4 1273.1L783.9 1272.9L786.5 1272.7L789.1 1272.5L791.7 1272.3L794.3 1272.0L796.9 1271.8L799.5 1271.6L802.1 1271.3L804.7 1271.1L807.3 1270.8L809.9 1270.5L812.5 1270.3L815.0 1270.0L817.6 1269.7L820.2 1269.4L822.8 1269.2L825.4 1268.9L828.0 1268.6L830.6 1268.3L833.2 1268.0L835.8 1267.7L838.4 1267.4L841.0 1267.1L843.6 1266.8L846.1 1266.5L848.7 1266.2L851.3 1265.9L853.9 1265.5L856.5 1265.2L859.1 1264.9L861.7 1264.6L864.3 1264.3L866.9 1264.0L869.5 1263.7L872.1 1263.3L874.6 1263.0L877.2 1262.7L879.8 1262.4L882.4 1262.1L885.0 1261.8L887.6 1261.5L890.2 1261.2L892.8 1260.8L895.4 1260.5L898.0 1260.2L900.6 1259.9L903.2 1259.6L905.8 1259.3L908.3 1259.0L910.9 1258.7L913.5 1258.4L916.1 1258.1L918.7 1257.8L921.3 1257.5L923.9 1257.2L926.5 1256.9L929.1 1256.6L931.7 1256.3L934.3 1256.0L936.9 1255.7L939.4 1255.4L942.0 1255.1L944.6 1254.8L947.2 1254.5L949.8 1254.3L952.4 1254.0L955.0 1253.7L957.6 1253.4L960.2 1253.1L962.8 1252.8L965.4 1252.5L967.9 1252.2L970.5 1251.9L973.1 1251.6L975.7 1251.3L978.3 1251.0L980.9 1250.7L983.5 1250.4L986.1 1250.1L988.7 1249.9L991.3 1249.6L993.9 1249.3L996.5 1249.0L999.0 1248.7L1001.6 1248.4L1004.2 1248.1L1006.8 1247.8L1009.4 1247.5L1012.0 1247.2L1014.6 1246.9L1017.2 1246.6L1019.8 1246.3L1022.4 1246.0L1025.0 1245.7L1027.6 1245.4L1030.2 1245.1L1032.7 1244.8L1035.3 1244.5L1037.9 1244.2L1040.5 1243.9L1043.1 1243.6L1045.7 1243.3L1048.3 1243.0L1050.9 1242.7L1053.5 1242.4L1056.1 1242.1L1058.7 1241.8L1061.2 1241.4L1063.8 1241.1L1066.4 1240.8L1069.0 1240.5L1071.6 1240.2L1074.2 1239.9L1076.8 1239.6L1079.4 1239.2L1082.0 1238.9L1084.6 1238.6L1087.2 1238.3L1089.8 1238.0L1092.3 1237.6L1094.9 1237.3L1097.5 1237.0L1100.1 1236.7L1102.7 1236.3L1105.3 1236.0L1107.9 1235.7L1110.5 1235.3L1113.1 1235.0L1115.7 1234.7L1118.3 1234.3L1120.9 1234.0L1123.4 1233.6L1126.0 1233.3L1128.6 1232.9L1131.2 1232.6L1133.8 1232.2L1136.4 1231.9L1139.0 1231.5" fill="none" stroke="#0000ff" stroke-width="8.7" stroke-linejoin="round"/>
<path d="M206.0 949.3L208.6 949.2L211.2 949.1L213.8 948.9L216.4 948.8L219.0 948.7L221.6 948.5L224.1 948.4L226.7 948.3L229.3 948.2L231.9 948.0L234.5 947.9L237.1 947.8L239.7 947.6L242.3 947.5L244.9 947.4L247.5 947.2L250.1 947.1L252.7 946.9L255.2 946.8L257.8 946.7L260.4 946.5L263.0 946.4L265.6 946.3L268.2 946.1L270.8 946.0L273.4 945.8L276.0 945.7L278.6 945.5L281.2 945.4L283.8 945.3L286.3 945.1L288.9 945.0L291.5 944.8L294.1 944.7L296.7 944.5L299.3 944.4L301.9 944.2L304.5 944.1L307.1 943.9L309.7 943.8L320.0 944.2L330.4 1207.9L340.8 1208.7L343.4 1208.9L345.9 1209.1L348.5 1209.3L351.1 1209.4L353.7 1209.6L356.3 1209.8L358.9 1210.0L361.5 1210.2L364.1 1210.4L366.7 1210.6L369.3 1210.7L371.9 1210.9L374.5 1211.1L377.0 1211.3L379.6 1211.4L382.2 1211.6L384.8 1211.8L387.4 1212.0L390.0 1212.1L392.6 1212.3L395.2 1212.5L397.8 1212.6L400.4 1212.8L403.0 1213.0L405.6 1213.1L408.1 1213.3L410.7 1213.5L413.3 1213.6L415.9 1213.8L418.5 1214.0L421.1 1214.1L423.7 1214.3L426.3 1214.4L428.9 1214.6L431.5 1214.7L434.1 1214.9L436.7 1215.0L439.2 1215.2L441.8 1215.3L444.4 1215.5L447.0 1215.6L449.6 1215.8L452.2 1215.9L454.8 1216.1L457.4 1216.2L460.0 1216.4L462.6 1216.5L465.2 1216.6L467.8 1216.8L470.3 1216.9L472.9 1217.1L475.5 1217.2L478.1 1217.3L480.7 1217.5L483.3 1217.6L485.9 1217.7L488.5 1217.9L491.1 1218.0L493.7 1218.1L496.3 1218.2L498.9 1218.4L501.4 1218.5L504.0 1218.6L506.6 1218.7L509.2 1218.9L511.8 1219.0L514.4 1219.1L517.0 1219.2L519.6 1219.3L522.2 1219.5L524.8 1219.6L527.4 1219.7L530.0 1219.8L532.5 1219.9L535.1 1220.0L537.7 1220.1L540.3 1220.2L542.9 1220.4L545.5 1220.5L548.1 1220.6L550.7 1220.7L553.3 1220.8L555.9 1220.9L558.5 1221.0L561.1 1221.1L563.7 1221.2L566.2 1221.3L568.8 1221.4L571.4 1221.5L574.0 1221.6L576.6 1221.7L579.2 1221.8L581.8 1221.9L584.4 1221.9L587.0 1222.0L589.6 1222.1L592.2 1222.2L594.8 1222.3L597.3 1222.4L599.9 1222.5L602.5 1222.6L605.1 1222.6L607.7 1222.7L610.3 1222.8L612.9 1222.9L615.5 1223.0L618.1 1223.0L620.7 1223.1L623.3 1223.2L625.9 1223.3L628.4 1223.4L631.0 1223.4L633.6 1223.5L636.2 1223.6L638.8 1223.6L641.4 1223.7L644.0 1223.8L646.6 1223.8L649.2 1223.9L651.8 1224.0L654.4 1224.0L657.0 1224.1L659.5 1224.2L662.1 1224.2L664.7 1224.3L667.3 1224.3L669.9 1224.4L672.5 1224.5L675.1 1224.5L677.7 1224.6L680.3 1224.6L682.9 1224.7L685.5 1224.7L688.1 1224.8L690.6 1224.8L693.2 1224.9L695.8 1224.9L698.4 1225.0L701.0 1225.0L703.6 1225.1L706.2 1225.1L708.8 1225.2L711.4 1225.2L714.0 1225.2L716.6 1225.3L719.2 1225.3L721.7 1225.4L724.3 1225.4L726.9 1225.4L729.5 1225.5L732.1 1225.5L734.7 1225.5L737.3 1225.6L739.9 1225.6L742.5 1225.6L745.1 1225.7L747.7 1225.7L750.2 1225.7L752.8 1225.7L755.4 1225.8L758.0 1225.8L760.6 1225.8L763.2 1225.8L765.8 1225.9L768.4 1225.9L771.0 1225.9L773.6 1225.9L776.2 1225.9L778.8 1226.0L781.4 1226.0L783.9 1226.0L786.5 1226.0L789.1 1226.0L791.7 1226.0L794.3 1226.0L796.9 1226.1L799.5 1226.1L802.1 1226.1L804.7 1226.1L807.3 1226.1L809.9 1226.1L812.5 1226.1L815.0 1226.1L817.6 1226.1L820.2 1226.1L822.8 1226.1L825.4 1226.1L828.0 1226.1L830.6 1226.1L833.2 1226.1L835.8 1226.1L838.4 1226.1L841.0 1226.1L843.6 1226.1L846.1 1226.1L848.7 1226.1L851.3 1226.1L853.9 1226.0L856.5 1226.0L859.1 1226.0L861.7 1226.0L864.3 1226.0L866.9 1226.0L869.5 1226.0L872.1 1225.9L874.6 1225.9L877.2 1225.9L879.8 1225.9L882.4 1225.9L885.0 1225.8L887.6 1225.8L890.2 1225.8L892.8 1225.8L895.4 1225.8L898.0 1225.7L900.6 1225.7L903.2 1225.7L905.8 1225.6L908.3 1225.6L910.9 1225.6L913.5 1225.6L916.1 1225.5L918.7 1225.5L921.3 1225.5L923.9 1225.4L926.5 1225.4L929.1 1225.3L931.7 1225.3L934.3 1225.3L936.9 1225.2L939.4 1225.2L942.0 1225.2L944.6 1225.1L947.2 1225.1L949.8 1225.0L952.4 1225.0L955.0 1224.9L957.6 1224.9L960.2 1224.8L962.8 1224.8L965.4 1224.7L967.9 1224.7L970.5 1224.6L973.1 1224.6L975.7 1224.5L978.3 1224.5L980.9 1224.4L983.5 1224.4L986.1 1224.3L988.7 1224.3L991.3 1224.2L993.9 1224.1L996.5 1224.1L999.0 1224.0L1001.6 1224.0L1004.2 1223.9L1006.8 1223.8L1009.4 1223.8L1012.0 1223.7L1014.6 1223.6L1017.2 1223.6L1019.8 1223.5L1022.4 1223.4L1025.0 1223.4L1027.6 1223.3L1030.2 1223.2L1032.7 1223.2L1035.3 1223.1L1037.9 1223.0L1040.5 1222.9L1043.1 1222.9L1045.7 1222.8L1048.3 1222.7L1050.9 1222.6L1053.5 1222.5L1056.1 1222.5L1058.7 1222.4L1061.2 1222.3L1063.8 1222.2L1066.4 1222.1L1069.0 1222.1L1071.6 1222.0L1074.2 1221.9L1076.8 1221.8L1079.4 1221.7L1082.0 1221.6L1084.6 1221.5L1087.2 1221.4L1089.8 1221.4L1092.3 1221.3L1094.9 1221.2L1097.5 1221.1L1100.1 1221.0L1102.7 1220.9L1105.3 1220.8L1107.9 1220.7L1110.5 1220.6L1113.1 1220.5L1115.7 1220.4L1118.3 1220.3L1120.9 1220.2L1123.4 1220.1L1126.0 1220.0L1128.6 1219.9L1131.2 1219.8L1133.8 1219.7L1136.4 1219.6L1139.0 1219.5" fill="none" stroke="#000" stroke-width="8" stroke-dasharray="8 6" stroke-linejoin="round"/>
<path d="M206.0 1065.0L208.6 1064.6L211.2 1064.3L213.8 1063.9L216.4 1063.5L219.0 1063.1L221.6 1062.8L224.1 1062.4L226.7 1062.0L229.3 1061.7L231.9 1061.3L234.5 1061.0L237.1 1060.6L239.7 1060.3L242.3 1059.9L244.9 1059.6L247.5 1059.3L250.1 1058.9L252.7 1058.6L255.2 1058.3L257.8 1058.0L260.4 1057.6L263.0 1057.3L265.6 1057.0L268.2 1056.7L270.8 1056.4L273.4 1056.1L276.0 1055.8L278.6 1055.5L281.2 1055.2L283.8 1054.9L286.3 1054.6L288.9 1054.3L291.5 1054.0L294.1 1053.8L296.7 1053.5L299.3 1053.2L301.9 1052.9L304.5 1052.7L307.1 1052.4L309.7 1052.2L312.3 1051.9L314.9 1051.6L317.4 1051.4L320.0 1051.1L322.6 1050.9L325.2 1050.7L327.8 1050.4L330.4 1050.2L333.0 1050.0L335.6 1049.7L338.2 1049.5L340.8 1049.3L343.4 1049.1L345.9 1048.8L348.5 1048.6L351.1 1048.4L353.7 1048.2L356.3 1048.0L358.9 1047.8L361.5 1047.6L364.1 1047.4L366.7 1047.2L369.3 1047.0L371.9 1046.8L374.5 1046.7L377.0 1046.5L379.6 1046.3L382.2 1046.1L384.8 1046.0L387.4 1045.8L390.0 1045.6L392.6 1045.5L395.2 1045.3L397.8 1045.2L400.4 1045.0L403.0 1044.9L405.6 1044.7L408.1 1044.6L410.7 1044.4L413.3 1044.3L415.9 1044.2L418.5 1044.0L421.1 1043.9L423.7 1043.8L426.3 1043.7L428.9 1043.5L431.5 1043.4L434.1 1043.3L436.7 1043.2L439.2 1043.1L441.8 1043.0L444.4 1042.9L447.0 1042.8L449.6 1042.7L452.2 1042.6L454.8 1042.5L457.4 1042.4L460.0 1042.3L462.6 1042.3L465.2 1042.2L467.8 1042.1L470.3 1042.0L472.9 1042.0L475.5 1041.9L478.1 1041.8L480.7 1041.8L483.3 1041.7L485.9 1041.7L488.5 1041.6L491.1 1041.6L493.7 1041.5L496.3 1041.5L498.9 1041.5L501.4 1041.4L504.0 1041.4L506.6 1041.4L509.2 1041.3L511.8 1041.3L514.4 1041.3L517.0 1041.3L519.6 1041.2L522.2 1041.2L524.8 1041.2L527.4 1041.2L530.0 1041.2L532.5 1041.2L535.1 1041.2L537.7 1041.2L540.3 1041.2L542.9 1041.2L545.5 1041.3L548.1 1041.3L550.7 1041.3L553.3 1041.3L555.9 1041.3L558.5 1041.4L561.1 1041.4L563.7 1041.4L566.2 1041.5L568.8 1041.5L571.4 1041.5L574.0 1041.6L576.6 1041.6L579.2 1041.7L581.8 1041.7L584.4 1041.8L587.0 1041.9L589.6 1041.9L592.2 1042.0L594.8 1042.0L597.3 1042.1L599.9 1042.2L602.5 1042.3L605.1 1042.3L607.7 1042.4L610.3 1042.5L612.9 1042.6L615.5 1042.7L618.1 1042.8L620.7 1042.9L623.3 1043.0L625.9 1043.1L628.4 1043.2L631.0 1043.3L633.6 1043.4L636.2 1043.5L638.8 1043.6L641.4 1043.7L644.0 1043.8L646.6 1044.0L649.2 1044.1L651.8 1044.2L654.4 1044.3L657.0 1044.5L659.5 1044.6L662.1 1044.7L664.7 1044.9L667.3 1045.0L669.9 1045.2L672.5 1045.3L675.1 1045.5L677.7 1045.6L680.3 1045.8L682.9 1045.9L685.5 1046.1L688.1 1046.2L690.6 1046.4L693.2 1046.6L695.8 1046.7L698.4 1046.9L701.0 1047.1L703.6 1047.3L706.2 1047.4L708.8 1047.6L711.4 1047.8L714.0 1048.0L716.6 1048.2L719.2 1048.4L721.7 1048.6L724.3 1048.8L726.9 1049.0L729.5 1049.2L732.1 1049.4L734.7 1049.6L737.3 1049.8L739.9 1050.0L742.5 1050.2L745.1 1050.4L747.7 1050.7L750.2 1050.9L752.8 1051.1L755.4 1051.3L758.0 1051.6L760.6 1051.8L763.2 1052.0L765.8 1052.3L768.4 1052.5L771.0 1052.7L773.6 1053.0L776.2 1053.2L778.8 1053.5L781.4 1053.7L783.9 1054.0L786.5 1054.2L789.1 1054.5L791.7 1054.8L794.3 1055.0L796.9 1055.3L799.5 1055.5L802.1 1055.8L804.7 1056.1L807.3 1056.4L809.9 1056.6L812.5 1056.9L815.0 1057.2L817.6 1057.5L820.2 1057.8L822.8 1058.0L825.4 1058.3L828.0 1058.6L830.6 1058.9L833.2 1059.2L835.8 1059.5L838.4 1059.8L841.0 1060.1L843.6 1060.4L846.1 1060.7L848.7 1061.0L851.3 1061.3L853.9 1061.7L856.5 1062.0L859.1 1062.3L861.7 1062.6L864.3 1062.9L866.9 1063.2L869.5 1063.6L872.1 1063.9L874.6 1064.2L877.2 1064.6L879.8 1064.9L882.4 1065.2L885.0 1065.6L887.6 1065.9L890.2 1066.3L892.8 1066.6L895.4 1066.9L898.0 1067.3L900.6 1067.6L903.2 1068.0L905.8 1068.4L908.3 1068.7L910.9 1069.1L913.5 1069.4L916.1 1069.8L918.7 1070.2L921.3 1070.5L923.9 1070.9L926.5 1071.3L929.1 1071.6L931.7 1072.0L934.3 1072.4L936.9 1072.8L939.4 1073.1L942.0 1073.5L944.6 1073.9L947.2 1074.3L949.8 1074.7L952.4 1075.1L955.0 1075.5L957.6 1075.9L960.2 1076.3L962.8 1076.7L965.4 1077.1L967.9 1077.5L970.5 1077.9L973.1 1078.3L975.7 1078.7L978.3 1079.1L980.9 1079.5L983.5 1079.9L986.1 1080.3L988.7 1080.7L991.3 1081.2L993.9 1081.6L996.5 1082.0L999.0 1082.4L1001.6 1082.8L1004.2 1083.3L1006.8 1083.7L1009.4 1084.1L1012.0 1084.6L1014.6 1085.0L1017.2 1085.4L1019.8 1085.9L1022.4 1086.3L1025.0 1086.8L1027.6 1087.2L1030.2 1087.6L1032.7 1088.1L1035.3 1088.5L1037.9 1089.0L1040.5 1089.4L1043.1 1089.9L1045.7 1090.3L1048.3 1090.8L1050.9 1091.3L1053.5 1091.7L1056.1 1092.2L1058.7 1092.6L1061.2 1093.1L1063.8 1093.6L1066.4 1094.0L1069.0 1094.5L1071.6 1095.0L1074.2 1095.5L1076.8 1095.9L1079.4 1096.4L1082.0 1096.9L1084.6 1097.4L1087.2 1097.9L1089.8 1098.3L1092.3 1098.8L1094.9 1099.3L1097.5 1099.8L1100.1 1100.3L1102.7 1100.8L1105.3 1101.3L1107.9 1101.8L1110.5 1102.3L1113.1 1102.8L1115.7 1103.3L1118.3 1103.8L1120.9 1104.3L1123.4 1104.8L1126.0 1105.3L1128.6 1105.8L1131.2 1106.3L1133.8 1106.8L1136.4 1107.3L1139.0 1107.8" fill="none" stroke="#008000" stroke-width="7.2" stroke-dasharray="29.3 6.1 15 6.1" stroke-linejoin="round"/>
</g>
<g clip-path="url(#c4)">
<path d="M1456.0 942.6L1458.6 942.6L1461.2 942.5L1463.8 942.5L1466.4 942.4L1469.0 942.4L1471.6 942.3L1474.2 942.3L1476.8 942.3L1479.4 942.2L1482.0 942.2L1484.6 942.1L1487.2 942.1L1489.8 942.1L1492.4 942.0L1495.0 942.0L1497.6 942.0L1500.2 941.9L1502.8 941.9L1505.4 941.9L1508.0 941.8L1510.6 941.8L1513.2 941.7L1515.8 941.7L1518.4 941.7L1521.0 941.6L1523.6 941.6L1526.2 941.6L1528.8 941.6L1531.4 941.5L1534.0 941.5L1536.6 941.5L1539.2 941.4L1541.8 941.4L1544.4 941.4L1547.0 941.3L1549.6 941.3L1552.2 941.3L1554.8 941.3L1557.4 941.2L1560.0 941.2L1570.4 960.0L1573.0 966.9L1575.6 973.5L1578.2 979.9L1580.8 986.1L1583.4 992.1L1586.0 997.8L1588.6 1003.4L1591.2 1008.8L1593.8 1014.1L1596.4 1019.2L1599.0 1024.1L1601.6 1028.9L1604.2 1033.6L1606.8 1038.1L1609.4 1042.5L1612.0 1046.8L1614.6 1050.9L1617.2 1055.0L1619.8 1058.9L1622.4 1062.7L1625.0 1066.3L1627.6 1069.9L1630.2 1073.4L1632.8 1076.8L1635.4 1080.2L1638.0 1083.4L1640.6 1086.6L1643.2 1089.6L1645.8 1092.7L1648.4 1095.6L1651.0 1098.5L1653.6 1101.3L1656.2 1104.1L1658.8 1106.9L1661.4 1109.6L1664.0 1112.2L1666.6 1114.9L1669.2 1117.5L1671.8 1120.0L1674.4 1122.6L1677.0 1125.1L1679.6 1127.6L1682.2 1130.1L1684.8 1132.5L1687.4 1135.0L1690.0 1137.3L1692.6 1139.7L1695.2 1142.1L1697.8 1144.4L1700.4 1146.7L1703.0 1148.9L1705.6 1151.2L1708.2 1153.4L1710.8 1155.5L1713.4 1157.7L1716.0 1159.8L1718.6 1161.9L1721.2 1164.0L1723.8 1166.1L1726.4 1168.1L1729.0 1170.1L1731.6 1172.1L1734.2 1174.0L1736.8 1176.0L1739.4 1177.9L1742.0 1179.7L1744.6 1181.6L1747.2 1183.4L1749.8 1185.2L1752.4 1187.0L1755.0 1188.7L1757.6 1190.4L1760.2 1192.1L1762.8 1193.8L1765.4 1195.5L1768.0 1197.1L1770.6 1198.7L1773.2 1200.2L1775.8 1201.8L1778.4 1203.3L1781.0 1204.8L1783.6 1206.3L1786.2 1207.7L1788.8 1209.1L1791.4 1210.5L1794.0 1211.9L1796.6 1213.2L1799.2 1214.5L1801.8 1215.8L1804.4 1217.1L1807.0 1218.3L1809.6 1219.5L1812.2 1220.7L1814.8 1221.9L1817.4 1223.0L1820.0 1224.2L1822.6 1225.2L1825.2 1226.3L1827.8 1227.4L1830.4 1228.4L1833.0 1229.4L1835.6 1230.3L1838.2 1231.3L1840.8 1232.2L1843.4 1233.1L1846.0 1234.0L1848.6 1234.8L1851.2 1235.6L1853.8 1236.4L1856.4 1237.2L1859.0 1238.0L1861.6 1238.7L1864.2 1239.4L1866.8 1240.1L1869.4 1240.8L1872.0 1241.4L1874.6 1242.0L1877.2 1242.6L1879.8 1243.2L1882.4 1243.8L1885.0 1244.3L1887.6 1244.8L1890.2 1245.3L1892.8 1245.8L1895.4 1246.3L1898.0 1246.7L1900.6 1247.2L1903.2 1247.6L1905.8 1248.0L1908.4 1248.3L1911.0 1248.7L1913.6 1249.0L1916.2 1249.3L1918.8 1249.6L1921.4 1249.9L1924.0 1250.2L1926.6 1250.4L1929.2 1250.7L1931.8 1250.9L1934.4 1251.1L1937.0 1251.3L1939.6 1251.4L1942.2 1251.6L1944.8 1251.8L1947.4 1251.9L1950.0 1252.0L1952.6 1252.1L1955.2 1252.2L1957.8 1252.3L1960.4 1252.3L1963.0 1252.4L1965.6 1252.4L1968.2 1252.4L1970.8 1252.4L1973.4 1252.4L1976.0 1252.4L1978.6 1252.4L1981.2 1252.4L1983.8 1252.3L1986.4 1252.3L1989.0 1252.2L1991.6 1252.1L1994.2 1252.0L1996.8 1251.9L1999.4 1251.8L2002.0 1251.7L2004.6 1251.6L2007.2 1251.5L2009.8 1251.3L2012.4 1251.2L2015.0 1251.0L2017.6 1250.8L2020.2 1250.7L2022.8 1250.5L2025.4 1250.3L2028.0 1250.1L2030.6 1249.9L2033.2 1249.7L2035.8 1249.5L2038.4 1249.3L2041.0 1249.0L2043.6 1248.8L2046.2 1248.6L2048.8 1248.3L2051.4 1248.1L2054.0 1247.8L2056.6 1247.6L2059.2 1247.3L2061.8 1247.1L2064.4 1246.8L2067.0 1246.6L2069.6 1246.3L2072.2 1246.0L2074.8 1245.7L2077.4 1245.5L2080.0 1245.2L2082.6 1244.9L2085.2 1244.6L2087.8 1244.4L2090.4 1244.1L2093.0 1243.8L2095.6 1243.5L2098.2 1243.2L2100.8 1242.9L2103.4 1242.7L2106.0 1242.4L2108.6 1242.1L2111.2 1241.8L2113.8 1241.5L2116.4 1241.2L2119.0 1240.9L2121.6 1240.6L2124.2 1240.4L2126.8 1240.1L2129.4 1239.8L2132.0 1239.5L2134.6 1239.2L2137.2 1238.9L2139.8 1238.6L2142.4 1238.3L2145.0 1238.0L2147.6 1237.7L2150.2 1237.4L2152.8 1237.2L2155.4 1236.9L2158.0 1236.6L2160.6 1236.3L2163.2 1236.0L2165.8 1235.7L2168.4 1235.4L2171.0 1235.1L2173.6 1234.8L2176.2 1234.5L2178.8 1234.2L2181.4 1233.9L2184.0 1233.6L2186.6 1233.3L2189.2 1233.0L2191.8 1232.8L2194.4 1232.5L2197.0 1232.2L2199.6 1231.9L2202.2 1231.6L2204.8 1231.3L2207.4 1231.0L2210.0 1230.7L2212.6 1230.4L2215.2 1230.1L2217.8 1229.8L2220.4 1229.5L2223.0 1229.2L2225.6 1229.0L2228.2 1228.7L2230.8 1228.4L2233.4 1228.1L2236.0 1227.8L2238.6 1227.5L2241.2 1227.2L2243.8 1226.9L2246.4 1226.6L2249.0 1226.3L2251.6 1226.1L2254.2 1225.8L2256.8 1225.5L2259.4 1225.2L2262.0 1224.9L2264.6 1224.6L2267.2 1224.4L2269.8 1224.1L2272.4 1223.8L2275.0 1223.5L2277.6 1223.2L2280.2 1222.9L2282.8 1222.7L2285.4 1222.4L2288.0 1222.1L2290.6 1221.8L2293.2 1221.6L2295.8 1221.3L2298.4 1221.0L2301.0 1220.7L2303.6 1220.5L2306.2 1220.2L2308.8 1219.9L2311.4 1219.6L2314.0 1219.4L2316.6 1219.1L2319.2 1218.8L2321.8 1218.6L2324.4 1218.3L2327.0 1218.0L2329.6 1217.8L2332.2 1217.5L2334.8 1217.3L2337.4 1217.0L2340.0 1216.7L2342.6 1216.5L2345.2 1216.2L2347.8 1216.0L2350.4 1215.7L2353.0 1215.5L2355.6 1215.2L2358.2 1215.0L2360.8 1214.7L2363.4 1214.5L2366.0 1214.2L2368.6 1214.0L2371.2 1213.7L2373.8 1213.5L2376.4 1213.3L2379.0 1213.0L2381.6 1212.8L2384.2 1212.5L2386.8 1212.3L2389.4 1212.1L2392.0 1211.8" fill="none" stroke="#0000ff" stroke-width="8.7" stroke-linejoin="round"/>
<path d="M1456.0 947.9L1458.6 947.8L1461.2 947.8L1463.8 947.7L1466.4 947.7L1469.0 947.6L1471.6 947.5L1474.2 947.5L1476.8 947.4L1479.4 947.3L1482.0 947.3L1484.6 947.2L1487.2 947.2L1489.8 947.1L1492.4 947.0L1495.0 947.0L1497.6 946.9L1500.2 946.8L1502.8 946.8L1505.4 946.7L1508.0 946.6L1510.6 946.6L1513.2 946.5L1515.8 946.4L1518.4 946.4L1521.0 946.3L1523.6 946.2L1526.2 946.2L1528.8 946.1L1531.4 946.0L1534.0 945.9L1536.6 945.9L1539.2 945.8L1541.8 945.7L1544.4 945.7L1547.0 945.6L1549.6 945.5L1552.2 945.4L1554.8 945.4L1557.4 945.3L1560.0 945.2L1570.4 1167.0L1580.8 1281.0L1591.2 1270.0L1601.6 1259.0L1612.0 1241.0L1622.4 1224.0L1632.8 1212.0L1643.2 1201.0L1653.6 1193.0L1664.0 1188.5L1674.4 1187.0L1684.8 1187.5L1695.2 1190.0L1705.6 1193.5L1716.0 1197.0L1726.4 1200.5L1736.8 1203.3L1747.2 1203.8L1757.6 1202.9L1768.0 1202.2L1778.4 1202.1L1788.8 1202.1L1799.2 1202.1L1809.6 1202.1L1820.0 1202.1L1830.4 1202.1L1840.8 1202.1L1851.2 1202.1L1861.6 1202.1L1872.0 1202.1L1882.4 1202.1L1892.8 1202.1L1903.2 1202.1L1913.6 1202.1L1924.0 1202.1L1934.4 1202.1L1944.8 1202.1L1955.2 1202.1L1965.6 1202.1L1976.0 1202.1L1986.4 1202.1L1996.8 1202.1L2007.2 1202.1L2017.6 1202.1L2028.0 1202.1L2038.4 1202.1L2048.8 1202.1L2059.2 1202.1L2069.6 1202.1L2080.0 1202.1L2090.4 1202.1L2100.8 1202.1L2111.2 1202.1L2121.6 1202.1L2132.0 1202.1L2142.4 1202.1L2152.8 1202.1L2163.2 1202.1L2173.6 1202.1L2184.0 1202.1L2194.4 1202.1L2204.8 1202.1L2215.2 1202.1L2225.6 1202.1L2236.0 1202.1L2246.4 1202.1L2256.8 1202.1L2267.2 1202.1L2277.6 1202.1L2288.0 1202.1L2298.4 1202.1L2308.8 1202.1L2319.2 1202.1L2329.6 1202.1L2340.0 1202.1L2350.4 1202.1L2360.8 1202.1L2371.2 1202.1L2381.6 1202.1L2392.0 1202.1" fill="none" stroke="#000" stroke-width="8" stroke-dasharray="8 6" stroke-linejoin="round"/>
<path d="M1456.0 1021.0L1458.6 1020.8L1461.2 1020.6L1463.8 1020.4L1466.4 1020.2L1469.0 1020.0L1471.6 1019.8L1474.2 1019.6L1476.8 1019.4L1479.4 1019.2L1482.0 1019.0L1484.6 1018.8L1487.2 1018.6L1489.8 1018.5L1492.4 1018.3L1495.0 1018.1L1497.6 1017.9L1500.2 1017.7L1502.8 1017.6L1505.4 1017.4L1508.0 1017.2L1510.6 1017.0L1513.2 1016.9L1515.8 1016.7L1518.4 1016.5L1521.0 1016.4L1523.6 1016.2L1526.2 1016.1L1528.8 1015.9L1531.4 1015.8L1534.0 1015.6L1536.6 1015.5L1539.2 1015.3L1541.8 1015.2L1544.4 1015.0L1547.0 1014.9L1549.6 1014.7L1552.2 1014.6L1554.8 1014.5L1557.4 1014.3L1560.0 1014.2L1562.6 1014.1L1565.2 1013.9L1567.8 1013.8L1570.4 1013.7L1573.0 1013.6L1575.6 1013.4L1578.2 1013.3L1580.8 1013.2L1583.4 1013.1L1586.0 1013.0L1588.6 1012.9L1591.2 1012.7L1593.8 1012.6L1596.4 1012.5L1599.0 1012.4L1601.6 1012.3L1604.2 1012.2L1606.8 1012.1L1609.4 1012.0L1612.0 1011.9L1614.6 1011.8L1617.2 1011.7L1619.8 1011.6L1622.4 1011.6L1625.0 1011.5L1627.6 1011.4L1630.2 1011.3L1632.8 1011.2L1635.4 1011.1L1638.0 1011.1L1640.6 1011.0L1643.2 1010.9L1645.8 1010.8L1648.4 1010.8L1651.0 1010.7L1653.6 1010.6L1656.2 1010.6L1658.8 1010.5L1661.4 1010.4L1664.0 1010.4L1666.6 1010.3L1669.2 1010.3L1671.8 1010.2L1674.4 1010.2L1677.0 1010.1L1679.6 1010.1L1682.2 1010.0L1684.8 1010.0L1687.4 1009.9L1690.0 1009.9L1692.6 1009.8L1695.2 1009.8L1697.8 1009.8L1700.4 1009.7L1703.0 1009.7L1705.6 1009.7L1708.2 1009.6L1710.8 1009.6L1713.4 1009.6L1716.0 1009.6L1718.6 1009.5L1721.2 1009.5L1723.8 1009.5L1726.4 1009.5L1729.0 1009.5L1731.6 1009.4L1734.2 1009.4L1736.8 1009.4L1739.4 1009.4L1742.0 1009.4L1744.6 1009.4L1747.2 1009.4L1749.8 1009.4L1752.4 1009.4L1755.0 1009.4L1757.6 1009.4L1760.2 1009.4L1762.8 1009.4L1765.4 1009.4L1768.0 1009.4L1770.6 1009.4L1773.2 1009.4L1775.8 1009.5L1778.4 1009.5L1781.0 1009.5L1783.6 1009.5L1786.2 1009.5L1788.8 1009.6L1791.4 1009.6L1794.0 1009.6L1796.6 1009.6L1799.2 1009.7L1801.8 1009.7L1804.4 1009.7L1807.0 1009.8L1809.6 1009.8L1812.2 1009.8L1814.8 1009.9L1817.4 1009.9L1820.0 1010.0L1822.6 1010.0L1825.2 1010.0L1827.8 1010.1L1830.4 1010.1L1833.0 1010.2L1835.6 1010.2L1838.2 1010.3L1840.8 1010.3L1843.4 1010.4L1846.0 1010.5L1848.6 1010.5L1851.2 1010.6L1853.8 1010.6L1856.4 1010.7L1859.0 1010.8L1861.6 1010.8L1864.2 1010.9L1866.8 1011.0L1869.4 1011.1L1872.0 1011.1L1874.6 1011.2L1877.2 1011.3L1879.8 1011.4L1882.4 1011.4L1885.0 1011.5L1887.6 1011.6L1890.2 1011.7L1892.8 1011.8L1895.4 1011.9L1898.0 1012.0L1900.6 1012.0L1903.2 1012.1L1905.8 1012.2L1908.4 1012.3L1911.0 1012.4L1913.6 1012.5L1916.2 1012.6L1918.8 1012.7L1921.4 1012.8L1924.0 1012.9L1926.6 1013.0L1929.2 1013.1L1931.8 1013.2L1934.4 1013.4L1937.0 1013.5L1939.6 1013.6L1942.2 1013.7L1944.8 1013.8L1947.4 1013.9L1950.0 1014.1L1952.6 1014.2L1955.2 1014.3L1957.8 1014.4L1960.4 1014.5L1963.0 1014.7L1965.6 1014.8L1968.2 1014.9L1970.8 1015.1L1973.4 1015.2L1976.0 1015.3L1978.6 1015.5L1981.2 1015.6L1983.8 1015.7L1986.4 1015.9L1989.0 1016.0L1991.6 1016.2L1994.2 1016.3L1996.8 1016.4L1999.4 1016.6L2002.0 1016.7L2004.6 1016.9L2007.2 1017.0L2009.8 1017.2L2012.4 1017.3L2015.0 1017.5L2017.6 1017.7L2020.2 1017.8L2022.8 1018.0L2025.4 1018.1L2028.0 1018.3L2030.6 1018.5L2033.2 1018.6L2035.8 1018.8L2038.4 1019.0L2041.0 1019.1L2043.6 1019.3L2046.2 1019.5L2048.8 1019.6L2051.4 1019.8L2054.0 1020.0L2056.6 1020.2L2059.2 1020.3L2061.8 1020.5L2064.4 1020.7L2067.0 1020.9L2069.6 1021.1L2072.2 1021.3L2074.8 1021.4L2077.4 1021.6L2080.0 1021.8L2082.6 1022.0L2085.2 1022.2L2087.8 1022.4L2090.4 1022.6L2093.0 1022.8L2095.6 1023.0L2098.2 1023.2L2100.8 1023.4L2103.4 1023.6L2106.0 1023.8L2108.6 1024.0L2111.2 1024.2L2113.8 1024.4L2116.4 1024.6L2119.0 1024.8L2121.6 1025.0L2124.2 1025.2L2126.8 1025.4L2129.4 1025.7L2132.0 1025.9L2134.6 1026.1L2137.2 1026.3L2139.8 1026.5L2142.4 1026.7L2145.0 1027.0L2147.6 1027.2L2150.2 1027.4L2152.8 1027.6L2155.4 1027.9L2158.0 1028.1L2160.6 1028.3L2163.2 1028.6L2165.8 1028.8L2168.4 1029.0L2171.0 1029.3L2173.6 1029.5L2176.2 1029.7L2178.8 1030.0L2181.4 1030.2L2184.0 1030.4L2186.6 1030.7L2189.2 1030.9L2191.8 1031.2L2194.4 1031.4L2197.0 1031.7L2199.6 1031.9L2202.2 1032.2L2204.8 1032.4L2207.4 1032.7L2210.0 1032.9L2212.6 1033.2L2215.2 1033.4L2217.8 1033.7L2220.4 1033.9L2223.0 1034.2L2225.6 1034.4L2228.2 1034.7L2230.8 1035.0L2233.4 1035.2L2236.0 1035.5L2238.6 1035.8L2241.2 1036.0L2243.8 1036.3L2246.4 1036.6L2249.0 1036.8L2251.6 1037.1L2254.2 1037.4L2256.8 1037.6L2259.4 1037.9L2262.0 1038.2L2264.6 1038.5L2267.2 1038.8L2269.8 1039.0L2272.4 1039.3L2275.0 1039.6L2277.6 1039.9L2280.2 1040.2L2282.8 1040.4L2285.4 1040.7L2288.0 1041.0L2290.6 1041.3L2293.2 1041.6L2295.8 1041.9L2298.4 1042.2L2301.0 1042.5L2303.6 1042.8L2306.2 1043.1L2308.8 1043.3L2311.4 1043.6L2314.0 1043.9L2316.6 1044.2L2319.2 1044.5L2321.8 1044.8L2324.4 1045.1L2327.0 1045.4L2329.6 1045.7L2332.2 1046.1L2334.8 1046.4L2337.4 1046.7L2340.0 1047.0L2342.6 1047.3L2345.2 1047.6L2347.8 1047.9L2350.4 1048.2L2353.0 1048.5L2355.6 1048.8L2358.2 1049.2L2360.8 1049.5L2363.4 1049.8L2366.0 1050.1L2368.6 1050.4L2371.2 1050.8L2373.8 1051.1L2376.4 1051.4L2379.0 1051.7L2381.6 1052.0L2384.2 1052.4L2386.8 1052.7L2389.4 1053.0L2392.0 1053.4" fill="none" stroke="#008000" stroke-width="7.2" stroke-dasharray="29.3 6.1 15 6.1" stroke-linejoin="round"/>
</g>
<rect x="206" y="48" width="933" height="566" fill="none" stroke="#262626" stroke-width="4"/>
<path d="M672.5 614 V602.5 M672.5 48 V59.5 M206 452.3 H217.5 M1139 452.3 H1127.5 M206 290.6 H217.5 M1139 290.6 H1127.5 M206 128.9 H217.5 M1139 128.9 H1127.5" stroke="#262626" stroke-width="3.4" fill="none"/>
<text x="181.5" y="636.0" text-anchor="end">-0.4</text>
<text x="181.5" y="474.3" text-anchor="end">-0.2</text>
<text x="181.5" y="312.6" text-anchor="end">0</text>
<text x="181.5" y="150.9" text-anchor="end">0.2</text>
<text x="206.0" y="694.0" text-anchor="middle">0</text>
<text x="672.5" y="694.0" text-anchor="middle">50</text>
<text x="1139.0" y="694.0" text-anchor="middle">100</text>
<rect x="1456" y="48" width="936" height="566" fill="none" stroke="#262626" stroke-width="4"/>
<path d="M1560.0 614 V602.5 M1560.0 48 V59.5 M1768.0 614 V602.5 M1768.0 48 V59.5 M1976.0 614 V602.5 M1976.0 48 V59.5 M2184.0 614 V602.5 M2184.0 48 V59.5 M1456 472.5 H1467.5 M2392 472.5 H2380.5 M1456 331.0 H1467.5 M2392 331.0 H2380.5 M1456 189.5 H1467.5 M2392 189.5 H2380.5" stroke="#262626" stroke-width="3.4" fill="none"/>
<text x="1431.5" y="636.0" text-anchor="end">0.2</text>
<text x="1431.5" y="494.5" text-anchor="end">0.3</text>
<text x="1431.5" y="353.0" text-anchor="end">0.4</text>
<text x="1431.5" y="211.5" text-anchor="end">0.5</text>
<text x="1431.5" y="70.0" text-anchor="end">0.6</text>
<text x="1560.0" y="694.0" text-anchor="middle">400</text>
<text x="1768.0" y="694.0" text-anchor="middle">420</text>
<text x="1976.0" y="694.0" text-anchor="middle">440</text>
<text x="2184.0" y="694.0" text-anchor="middle">460</text>
<text x="2392.0" y="694.0" text-anchor="middle">480</text>
<rect x="206" y="835" width="933" height="565" fill="none" stroke="#262626" stroke-width="4"/>
<path d="M309.7 1400 V1388.5 M309.7 835 V846.5 M517.0 1400 V1388.5 M517.0 835 V846.5 M724.3 1400 V1388.5 M724.3 835 V846.5 M931.7 1400 V1388.5 M931.7 835 V846.5 M206 1258.8 H217.5 M1139 1258.8 H1127.5 M206 1117.5 H217.5 M1139 1117.5 H1127.5 M206 976.2 H217.5 M1139 976.2 H1127.5" stroke="#262626" stroke-width="3.4" fill="none"/>
<text x="181.5" y="1422.0" text-anchor="end">0.6</text>
<text x="181.5" y="1280.8" text-anchor="end">0.7</text>
<text x="181.5" y="1139.5" text-anchor="end">0.8</text>
<text x="181.5" y="998.2" text-anchor="end">0.9</text>
<text x="181.5" y="857.0" text-anchor="end">1</text>
<text x="309.7" y="1480.0" text-anchor="middle">1000</text>
<text x="517.0" y="1480.0" text-anchor="middle">1020</text>
<text x="724.3" y="1480.0" text-anchor="middle">1040</text>
<text x="931.7" y="1480.0" text-anchor="middle">1060</text>
<text x="1139.0" y="1480.0" text-anchor="middle">1080</text>
<rect x="1456" y="835" width="936" height="565" fill="none" stroke="#262626" stroke-width="4"/>
<path d="M1560.0 1400 V1388.5 M1560.0 835 V846.5 M1768.0 1400 V1388.5 M1768.0 835 V846.5 M1976.0 1400 V1388.5 M1976.0 835 V846.5 M2184.0 1400 V1388.5 M2184.0 835 V846.5 M1456 1258.8 H1467.5 M2392 1258.8 H2380.5 M1456 1117.5 H1467.5 M2392 1117.5 H2380.5 M1456 976.2 H1467.5 M2392 976.2 H2380.5" stroke="#262626" stroke-width="3.4" fill="none"/>
<text x="1431.5" y="1422.0" text-anchor="end">0.2</text>
<text x="1431.5" y="1280.8" text-anchor="end">0.3</text>
<text x="1431.5" y="1139.5" text-anchor="end">0.4</text>
<text x="1431.5" y="998.2" text-anchor="end">0.5</text>
<text x="1431.5" y="857.0" text-anchor="end">0.6</text>
<text x="1560.0" y="1480.0" text-anchor="middle">3200</text>
<text x="1768.0" y="1480.0" text-anchor="middle">3220</text>
<text x="1976.0" y="1480.0" text-anchor="middle">3240</text>
<text x="2184.0" y="1480.0" text-anchor="middle">3260</text>
<text x="2392.0" y="1480.0" text-anchor="middle">3280</text>
<text transform="translate(67.5,331.2) rotate(-90) scale(0.955,1.045)" font-size="65.6" text-anchor="middle">u3</text>
<text transform="translate(1314,331.5) rotate(-90) scale(0.955,1.045)" font-size="65.6" text-anchor="middle">u3</text>
<text transform="translate(64.3,1117.1) rotate(-90) scale(0.955,1.045)" font-size="65.6" text-anchor="middle">u3</text>
<text transform="translate(1314,1117.5) rotate(-90) scale(0.955,1.045)" font-size="65.6" text-anchor="middle">u3</text>
<rect x="789" y="309" width="325" height="280" fill="#fff" stroke="#262626" stroke-width="3.6"/>
<path d="M806 360.5H982" stroke="#0000ff" stroke-width="8.8"/>
<path d="M806 450H982" stroke="#000" stroke-width="8" stroke-dasharray="8 6"/>
<path d="M806 538.5H982" stroke="#008000" stroke-width="7.2" stroke-dasharray="29.3 6.1 15 6.1"/>
<text x="994" y="370.2" font-size="50.4" fill="#000">u<tspan font-size="43" dy="23" dx="3.2">3g</tspan></text>
<text x="994" y="460.8" font-size="50.4" fill="#000">u<tspan font-size="43" dy="23" dx="3.2">3z</tspan></text>
<text x="994" y="550.3" font-size="50.4" fill="#000">u<tspan font-size="43" dy="23" dx="3.2">3go</tspan></text>
</svg>
</body></html>
